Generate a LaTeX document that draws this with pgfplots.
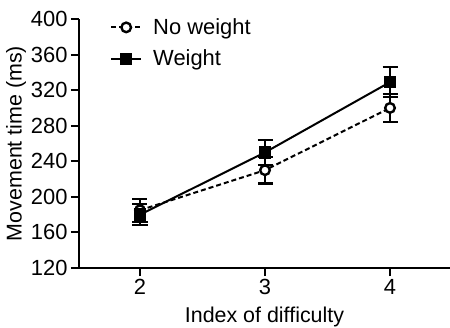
\documentclass[border=0pt]{standalone}
\usepackage{pgfplots}
\pgfplotsset{compat=1.18}
\usepackage{fontspec}
\setmainfont{Liberation Sans}
\begin{document}
\begin{tikzpicture}
\begin{axis}[
  name=ax,
  scale only axis,
  width=371bp, height=249bp,
  xmin=1.512, xmax=4.48,
  ymin=120, ymax=400,
  xtick={2,3,4},
  ytick={120,160,200,240,280,320,360,400},
  axis x line*=bottom, axis y line*=left,
  axis line style={line width=2.2bp, -},
  tick style={line width=2bp, black},
  tick align=outside,
  major tick length=8bp,
  /pgf/number format/assume math mode=true,
  tick label style={font=\fontsize{22}{22}\selectfont},
  label style={font=\fontsize{21.5}{21.5}\selectfont},
  xlabel={Index of difficulty},
  ylabel={Movement time (ms)},
  xlabel style={at={(ticklabel cs:0.5)}, anchor=north, yshift=-5bp},
  ylabel style={at={(ticklabel cs:0.5)}, anchor=south, yshift=-2bp},
  legend style={at={(0.0836,1.01)}, anchor=north west, draw=none, fill=none,
    font=\fontsize{22}{22}\selectfont, row sep=10bp, inner sep=0pt,
    /tikz/every odd column/.append style={column sep=9bp}},
  legend cell align=left,
  legend image code/.code={\draw[#1, mark repeat=2, mark phase=2] plot coordinates {(0bp,0bp) (15bp,0bp) (30bp,0bp)};},
  clip=false,
]
\addplot[black, line width=2bp, dash pattern=on 5bp off 3bp,
  mark=*, mark size=4.8bp, mark options={solid, fill=white, line width=2.4bp},
  error bars/.cd, y dir=both, y explicit,
  error bar style={line width=2.2bp, solid},
  error mark options={rotate=90, mark size=7.5bp, line width=2.2bp, solid}]
  coordinates {(2,185) +- (0,13) (3,230) +- (0,15) (4,300) +- (0,16)};
\addlegendentry{No weight}
\addplot[black, line width=2bp, solid,
  mark=square*, mark size=5.2bp,
  error bars/.cd, y dir=both, y explicit,
  error bar style={line width=2.2bp},
  error mark options={rotate=90, mark size=7.5bp, line width=2.2bp}]
  coordinates {(2,180) +- (0,12) (3,250) +- (0,14) (4,329) +- (0,17)};
\addlegendentry{Weight}
\end{axis}
\pgfresetboundingbox
\path ([shift={(-79bp,-60bp)}]ax.south west) rectangle ([shift={(0bp,19bp)}]ax.north east);
\end{tikzpicture}
\end{document}
